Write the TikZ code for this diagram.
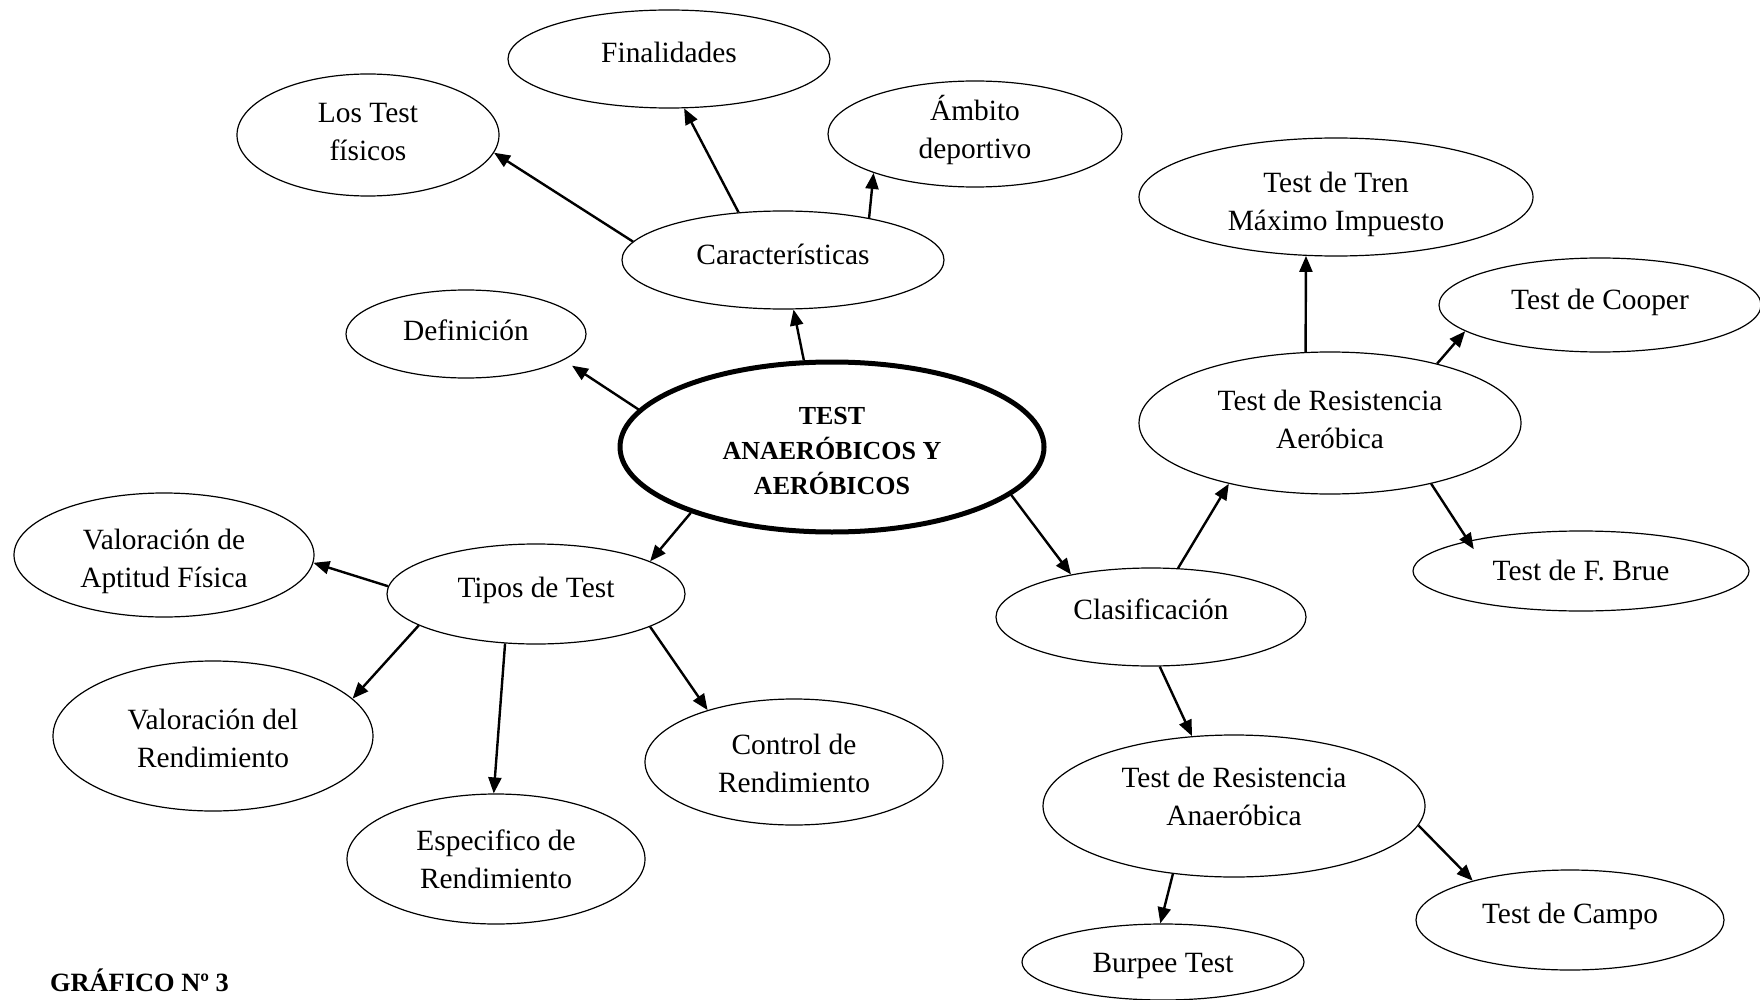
\documentclass[tikz,border=0pt]{standalone}
\usepackage{fontspec}
\setmainfont{Liberation Serif}
\usetikzlibrary{shapes.geometric,arrows.meta}
\tikzset{
  bub/.style={ellipse,draw,line width=0.6pt,inner sep=0pt},
  sz/.style 2 args={minimum width=#1pt,minimum height=#2pt},
  hub/.style={ellipse,draw,line width=2.5pt,inner sep=0pt},
  txt/.style={align=center,inner sep=0pt,font=\fontsize{14.7}{19}\selectfont},
  hubtxt/.style={align=center,inner sep=0pt,font=\fontsize{13}{17.7}\selectfont\bfseries},
  arr/.style={-{Triangle[length=8pt,width=6.5pt]},line width=1.2pt},
  caption/.style={anchor=base west,font=\fontsize{13.2}{16}\selectfont\bfseries}
}
\begin{document}
\begin{tikzpicture}[x=0.5pt,y=-0.5pt]

% page
\fill[white] (0,0) rectangle (1760,1000);
\path[use as bounding box] (0,0) rectangle (1760,1000);

% central topic
\node[hub,sz={212}{85}] (cen) at (832,447) {};
\node[hubtxt,yshift=-2pt] (cen-t) at (cen) {TEST\\ANAERÓBICOS Y\\AERÓBICOS};

% upper branch
\node[bub,sz={161}{49}] (car) at (783,260) {};
\node[bub,sz={161}{49}] (fin) at (669,59) {};
\node[bub,sz={131}{61}] (los) at (368,135) {};
\node[bub,sz={147}{53}] (amb) at (975,134) {};
\node[bub,sz={120}{44}] (def) at (466,334) {};
\node[txt,yshift=3pt]   (car-t) at (car) {Características};
\node[txt,yshift=3.5pt] (fin-t) at (fin) {Finalidades};
\node[txt,yshift=1.5pt] (los-t) at (los) {Los Test\\físicos};
\node[txt,yshift=2pt]   (amb-t) at (amb) {Ámbito\\deportivo};
\node[txt,yshift=2pt]   (def-t) at (def) {Definición};

% right branch
\node[bub,sz={155}{49}] (clas) at (1151,617) {};
\node[bub,sz={191}{71}] (aer) at (1330,423) {};
\node[bub,sz={197}{59}] (tren) at (1336,197) {};
\node[bub,sz={161}{47}] (coop) at (1600,305) {};
\node[bub,sz={168}{40}] (brue) at (1581,571) {};
\node[bub,sz={191}{71}] (ana) at (1234,806) {};
\node[bub,sz={154}{50}] (campo) at (1570,920) {};
\node[bub,sz={141}{38}] (burp) at (1163,962) {};
\node[txt,yshift=3.9pt]  (clas-t) at (clas) {Clasificación};
\node[txt,yshift=2pt]    (aer-t) at (aer) {Test de Resistencia\\Aeróbica};
\node[txt,yshift=-3.7pt] (tren-t) at (tren) {Test de Tren\\Máximo Impuesto};
\node[txt,yshift=1.2pt]  (coop-t) at (coop) {Test de Cooper};
\node[txt]               (brue-t) at (brue) {Test de F. Brue};
\node[txt,yshift=4.6pt]  (ana-t) at (ana) {Test de Resistencia\\Anaeróbica};
\node[txt,yshift=2pt]    (campo-t) at (campo) {Test de Campo};
\node[txt,yshift=-2pt]   (burp-t) at (burp) {Burpee Test};

% left branch
\node[bub,sz={149}{50}] (tipos) at (536,594) {};
\node[bub,sz={150}{62}] (apt) at (164,555) {};
\node[bub,sz={160}{75}] (vrend) at (213,736) {};
\node[bub,sz={149}{65}] (esp) at (496,859) {};
\node[bub,sz={149}{63}] (ctrl) at (794,762) {};
\node[txt,yshift=1.75pt] (tipos-t) at (tipos) {Tipos de Test};
\node[txt,yshift=-3pt]   (apt-t) at (apt) {Valoración de\\Aptitud Física};
\node[txt,yshift=-1.2pt] (vrend-t) at (vrend) {Valoración del\\Rendimiento};
\node[txt]               (esp-t) at (esp) {Especifico de\\Rendimiento};
\node[txt,yshift=-0.8pt] (ctrl-t) at (ctrl) {Control de\\Rendimiento};

% connectors
\draw[arr] (car.173.8) -- (los.-8.3);
\draw[arr] (car.133.6) -- (fin.-73.7);
\draw[arr] (car.26.5) -- (amb.201.9);
\draw[arr] (cen.108.4) -- (car.-78.6);
\draw[arr,shorten >=5pt] (cen.169.5) -- (def.-15);
\draw[arr] (cen.205.3) -- (tipos.16.3);
\draw[arr] (cen.-15) -- (clas.152.3);
\draw[arr] (tipos.177.7) -- (apt.-3.3);
\draw[arr] (tipos.195.7) -- (vrend.15.9);
\draw[arr] (tipos.238.7) -- (esp.92.4);
\draw[arr] (tipos.-16.4) -- (ctrl.149.7);
\draw[arr] (clas.61.7) -- (aer.211.4);
\draw[arr] (clas.-80) -- (ana.121.3);
\draw[arr] (aer.109) -- (tren.243);
\draw[arr] (aer.29.2) -- (coop.191.4);
\draw[arr,shorten >=-5pt] (aer.-31.7) -- (brue.165.5);
\draw[arr] (ana.228.5) -- (burp.94.4);
\draw[arr] (ana.-6.1) -- (campo.158.4);

% caption
\node[caption] (lab) at (43,991) {GRÁFICO Nº 3};
\end{tikzpicture}
\end{document}
